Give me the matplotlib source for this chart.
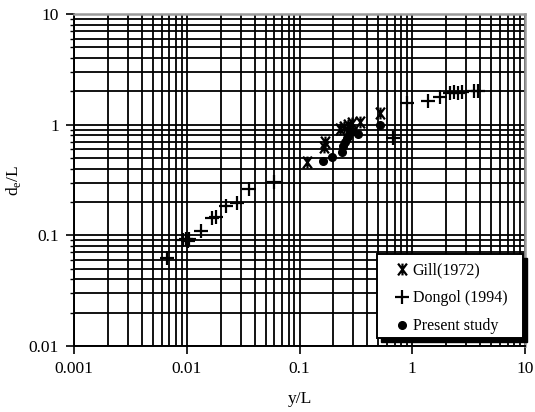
import matplotlib
matplotlib.use("Agg")
import matplotlib.pyplot as plt
from matplotlib.path import Path
from matplotlib.patches import Rectangle
from matplotlib.transforms import offset_copy
from matplotlib.ticker import LogLocator, NullFormatter, FixedLocator, FixedFormatter

plt.rcParams['font.family'] = ['Liberation Serif', 'DejaVu Serif']
plt.rcParams['mathtext.fontset'] = 'custom'
plt.rcParams['mathtext.rm'] = 'Liberation Serif'

# Gill (1972)
gill_x = [0.116, 0.165, 0.170, 0.230, 0.250, 0.270, 0.290, 0.344, 0.518]
gill_y = [0.457, 0.634, 0.700, 0.920, 0.960, 1.000, 1.030, 1.060, 1.280]

# Dongol (1994)
dongol_x = [0.0067, 0.0093, 0.0098, 0.0102, 0.0105, 0.0134, 0.0167, 0.0182,
            0.0223, 0.0279, 0.0357, 0.0594, 0.675, 0.893, 1.39, 1.76,
            2.16, 2.35, 2.55, 2.76, 3.53, 3.83]
dongol_y = [0.062, 0.090, 0.093, 0.088, 0.092, 0.109, 0.142, 0.145,
            0.183, 0.194, 0.260, 0.306, 0.760, 1.580, 1.650, 1.760,
            1.940, 1.960, 1.950, 1.970, 2.020, 2.000]

# Present study
present_x = [0.163, 0.193, 0.237, 0.243, 0.255, 0.262, 0.269, 0.280, 0.292, 0.332, 0.518]
present_y = [0.474, 0.507, 0.563, 0.647, 0.700, 0.760, 0.796, 0.850, 0.883, 0.824, 1.000]

x_ticks = [0.001, 0.01, 0.1, 1, 10]
x_labels = ['0.001', '0.01', '0.1', '1', '10']
y_ticks = [0.01, 0.1, 1, 10]
y_labels = ['0.01', '0.1', '1', '10']

# Star-like marker: an X crossed by a vertical stroke
star_path = Path(
    [(0, -1), (0, 1), (-0.75, -1), (0.75, 1), (-0.75, 1), (0.75, -1)],
    [Path.MOVETO, Path.LINETO, Path.MOVETO, Path.LINETO, Path.MOVETO, Path.LINETO],
)

fig = plt.figure(figsize=(5.35, 4.12), dpi=100)
ax = fig.add_axes([74 / 535, 1 - 346 / 412, 451 / 535, 332 / 412])

ax.set_xscale('log')
ax.set_yscale('log')
ax.set_xlim(0.001, 10)
ax.set_ylim(0.01, 10)

ax.grid(True, which='both', color='black', linewidth=1.3, zorder=0)
ax.set_axisbelow(True)

ax.plot(gill_x, gill_y, linestyle='none', marker=star_path, markersize=8.5,
        markeredgewidth=1.6, color='black', label='Gill(1972)', zorder=3)
ax.plot(dongol_x, dongol_y, linestyle='none', marker='+', markersize=9.5,
        markeredgewidth=1.6, color='black', label='Dongol (1994)', zorder=3)
ax.plot(present_x, present_y, linestyle='none', marker='o', markersize=5.5,
        color='black', label='Present study', zorder=3)

ax.xaxis.set_major_locator(FixedLocator(x_ticks))
ax.xaxis.set_major_formatter(FixedFormatter(x_labels))
ax.yaxis.set_major_locator(FixedLocator(y_ticks))
ax.yaxis.set_major_formatter(FixedFormatter(y_labels))
ax.xaxis.set_minor_locator(LogLocator(base=10, subs=range(2, 10)))
ax.yaxis.set_minor_locator(LogLocator(base=10, subs=range(2, 10)))
ax.xaxis.set_minor_formatter(NullFormatter())
ax.yaxis.set_minor_formatter(NullFormatter())

ax.tick_params(axis='both', which='major', direction='out', length=6, width=1.2,
               labelsize=12.5, colors='black', pad=5)
ax.tick_params(axis='y', which='minor', direction='out', length=3, width=1.0)
ax.tick_params(axis='x', which='minor', length=0)

for side in ('left', 'bottom'):
    ax.spines[side].set_color('black')
    ax.spines[side].set_linewidth(1.4)
for side in ('top', 'right'):
    ax.spines[side].set_color('#9a9a9a')
    ax.spines[side].set_linewidth(1.8)

ax.set_xlabel('y/L', fontsize=12.5, labelpad=10)
ax.set_ylabel(r'd$_\mathregular{e}$/L', fontsize=12.5, labelpad=4)

# Legend box with a solid drop shadow
box_x, box_y, box_w, box_h = 0.672, 0.024, 0.324, 0.253
shadow_tr = offset_copy(ax.transAxes, fig=fig, x=3, y=-3, units='points')
ax.add_patch(Rectangle((box_x, box_y), box_w, box_h, transform=shadow_tr,
                       facecolor='black', edgecolor='black', zorder=4, clip_on=False))
ax.add_patch(Rectangle((box_x, box_y), box_w, box_h, transform=ax.transAxes,
                       facecolor='white', edgecolor='black', linewidth=1.4,
                       zorder=4.5, clip_on=False))

leg = ax.legend(loc='upper left', bbox_to_anchor=(0.714, 0.252),
                fontsize=11.5, frameon=False, handlelength=0.8, handletextpad=0.25,
                labelspacing=0.75, borderpad=0, borderaxespad=0)
leg.set_zorder(5)

fig.savefig('out.png', dpi=100)
